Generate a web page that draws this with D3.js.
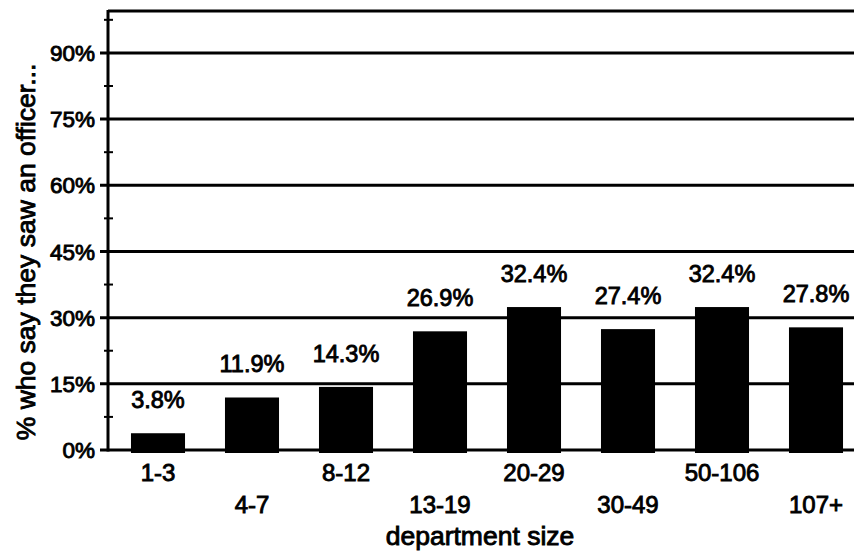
<!DOCTYPE html>
<html>
<head>
<meta charset="utf-8">
<script src="https://cdn.jsdelivr.net/npm/d3@7"></script>
<style>
  body { margin: 0; background: #fff; }
  svg { display: block; font-family: "Liberation Sans", Arial, Helvetica, sans-serif; }
  .txt { fill: #000; stroke: #000; stroke-width: 0.9px; }
</style>
</head>
<body>
<div id="chart"></div>
<script>
// data
var sizes = ["1-3", "4-7", "8-12", "13-19", "20-29", "30-49", "50-106", "107+"];
var percents = [3.8, 11.9, 14.3, 26.9, 32.4, 27.4, 32.4, 27.8];
var majorTicks = [0, 15, 30, 45, 60, 75, 90];
var minorTicks = [7.5, 22.5, 37.5, 52.5, 67.5, 82.5, 97.5];

var width = 854, height = 554;

var svg = d3.select("#chart").append("svg")
    .attr("width", width)
    .attr("height", height);

var x = d3.scaleBand()
    .domain(sizes)
    .range([111, 863])
    .paddingInner(0.425)
    .paddingOuter(0.2125);

var y = d3.scaleLinear()
    .domain([0, 99.5])
    .range([450, 11]);

var axisX = 108;

// gridlines
svg.append("g").selectAll("line")
    .data(majorTicks)
    .enter().append("line")
    .attr("x1", axisX - 8)
    .attr("x2", width)
    .attr("y1", function(d) { return y(d); })
    .attr("y2", function(d) { return y(d); })
    .attr("stroke", "#000")
    .attr("stroke-width", 3);

// top border
svg.append("line")
    .attr("x1", axisX).attr("x2", width)
    .attr("y1", y.range()[1]).attr("y2", y.range()[1])
    .attr("stroke", "#000").attr("stroke-width", 3);

// minor ticks crossing the axis
svg.append("g").selectAll("line")
    .data(minorTicks)
    .enter().append("line")
    .attr("x1", axisX - 4)
    .attr("x2", axisX + 5)
    .attr("y1", function(d) { return y(d); })
    .attr("y2", function(d) { return y(d); })
    .attr("stroke", "#000")
    .attr("stroke-width", 2);

// y axis line
svg.append("line")
    .attr("x1", axisX).attr("x2", axisX)
    .attr("y1", y.range()[1] - 1).attr("y2", y(0) + 1.5)
    .attr("stroke", "#000").attr("stroke-width", 3);

// tick labels
svg.append("g").selectAll("text")
    .data(majorTicks)
    .enter().append("text")
    .attr("class", "txt")
    .attr("x", 95)
    .attr("y", function(d) { return y(d); })
    .attr("dy", "0.36em")
    .attr("text-anchor", "end")
    .style("font-size", "22.5px")
    .text(function(d) { return d + "%"; });

// bars
svg.append("g").selectAll("rect")
    .data(percents)
    .enter().append("rect")
    .attr("x", function(d, i) { return x(sizes[i]); })
    .attr("width", x.bandwidth())
    .attr("y", function(d) { return y(d); })
    .attr("height", function(d) { return y(0) - y(d) + 3; })
    .attr("fill", "#000");

// value labels
svg.append("g").selectAll("text")
    .data(percents)
    .enter().append("text")
    .attr("class", "txt")
    .attr("x", function(d, i) { return x(sizes[i]) + x.bandwidth() / 2; })
    .attr("y", function(d) { return y(d) - 25; })
    .attr("text-anchor", "middle")
    .style("font-size", "23.5px")
    .text(function(d) { return d.toFixed(1) + "%"; });

// category labels, staggered
svg.append("g").selectAll("text")
    .data(sizes)
    .enter().append("text")
    .attr("class", "txt")
    .attr("x", function(d) { return x(d) + x.bandwidth() / 2; })
    .attr("y", function(d, i) { return i % 2 == 0 ? 481 : 513; })
    .attr("text-anchor", "middle")
    .style("font-size", "24px")
    .text(function(d) { return d; });

// axis titles
svg.append("text")
    .attr("class", "txt")
    .attr("x", 480)
    .attr("y", 545)
    .attr("text-anchor", "middle")
    .style("font-size", "26.5px")
    .text("department size");

svg.append("text")
    .attr("class", "txt")
    .attr("transform", "translate(35,252) rotate(-90)")
    .attr("text-anchor", "middle")
    .style("font-size", "26.5px")
    .text("% who say they saw an officer...");
</script>
</body>
</html>
